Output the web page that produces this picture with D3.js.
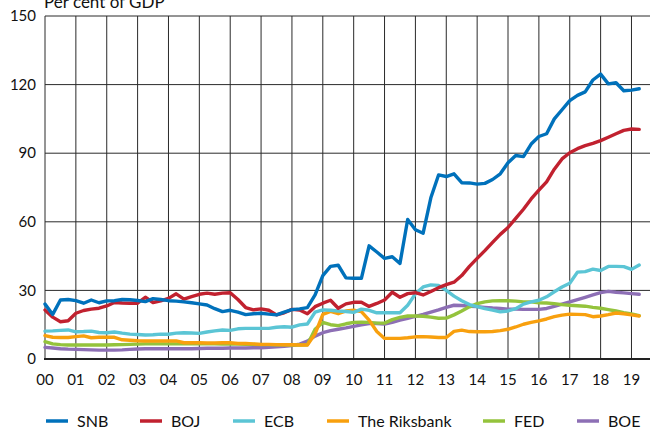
<!DOCTYPE html>
<html lang="en">
<head>
  <meta charset="UTF-8">
  <title>Central bank balance sheets</title>
  <script src="https://d3js.org/d3.v7.min.js"></script>
  <style>
    body {
      margin: 0;
      background: #fff;
      font-family: Lato, "Open Sans", Arial, sans-serif;
    }
    svg { display: block; }
    .grid line { stroke: #2a2a2a; stroke-width: 1px; }
    .tick-label { font-size: 15px; fill: #111; }
    .legend text { font-size: 16px; fill: #111; }
    .series { fill: none; stroke-width: 3.4px; stroke-linejoin: round; stroke-linecap: round; }
  </style>
</head>
<body>
  <svg width="650" height="430"></svg>

  <script>
    // Quarterly observations, 2000 Q1 .. 2019 Q2
    const quarters = d3.range(0, 78).map(i => 2000 + i / 4);

    const yearLabels = ["00","01","02","03","04","05","06","07","08","09",
                        "10","11","12","13","14","15","16","17","18","19"];
    const yTicks = [0, 30, 60, 90, 120, 150];

    const snb = [
      24, 19.5, 25.8, 26,   25.5, 24.4, 25.8, 24.6,  25.4, 25.5, 26, 25.9,
      25.6, 25.1, 26.4, 26, 25.5, 25.3, 25, 24.6,    24.1, 23.6, 22, 20.7,
      21.3, 20.5, 19.4, 19.8, 20, 19.6, 19.3, 20.5,  21.6, 21.9, 22.5, 28,
      36.5, 40.5, 41, 35.5, 35.3, 35.3, 49.5, 46.8,  44, 44.7, 41.8, 61,
      56.5, 55, 70.5, 80.5, 79.8, 81, 77.1, 77,      76.5, 76.8, 78.5, 81,
      85.8, 89, 88.5, 94,   97.3, 98.5, 105, 109,    113, 115.3, 116.8, 122,
      124.6, 120.3, 120.8, 117.3, 117.6, 118.2
    ];
    const boj = [
      21.4, 18.3, 16.3, 16.7, 20, 21.2, 21.8, 22.2,  23.2, 24.7, 24.5, 24.4,
      24.4, 27, 24.7, 25.4, 26.5, 28.5, 26.2, 27.3,  28.3, 28.8, 28.3, 28.8,
      29, 26, 22.5, 21.5,   21.9, 21.3, 19.3, 20.2,  21.7, 21.4, 19.8, 22.9,
      24.4, 25.7, 22.2, 24.1, 24.8, 24.8, 23, 24.3,  25.8, 29.2, 27, 28.6,
      29, 28, 29.5, 31.2,   32.5, 33.6, 36.5, 40.5,  44, 47.4, 51, 54.5,
      57.5, 61.5, 65.5, 70, 73.8, 77.5, 83, 87.5,    90.2, 92, 93.3, 94.3,
      95.5, 97, 98.5, 100,  100.6, 100.4
    ];
    const ecb = [
      12.2, 12.3, 12.5, 12.7, 11.9, 12, 12.2, 11.6,  11.5, 11.8, 11.3, 10.9,
      10.7, 10.5, 10.6, 10.9, 10.8, 11.3, 11.5, 11.4, 11.2, 11.8, 12.3, 12.7,
      12.5, 13.2, 13.4, 13.4, 13.4, 13.4, 13.9, 14.1, 13.9, 14.9, 15.3, 20.5,
      21.5, 21.3, 21, 20.8, 20.4, 21.8, 21.3, 20.2,  20.2, 20.2, 20.2, 23.5,
      28.5, 31.5, 32.4, 32.2, 30, 27.5, 25.5, 23.8,  22.9, 22, 21.4, 20.6,
      21, 22, 24, 25,       25.7, 27.2, 29.4, 31.5,  33.1, 38, 38.2, 39.3,
      38.7, 40.5, 40.5, 40.4, 39.2, 41.1
    ];
    const riksbank = [
      10.2, 9.5, 9.4, 9.4,  9.8, 10.1, 9.3, 9.5,     9.5, 9.5, 8.4, 8.2,
      8, 7.9, 7.9, 7.9,     7.9, 7.9, 7.1, 7.1,      7.1, 7, 7, 7.1,
      7.1, 6.8, 6.8, 6.6,   6.4, 6.4, 6.3, 6.2,      6.2, 6.1, 6.1, 11,
      19.5, 20.8, 19.8, 21, 21.3, 20.7, 17, 12,      9, 9, 9, 9.3,
      9.7, 9.8, 9.6, 9.4,   9.4, 12.1, 12.6, 12,     11.9, 11.9, 12, 12.4,
      13, 14, 15.2, 16,     16.7, 17.5, 18.5, 19.2,  19.6, 19.5, 19.4, 18.5,
      18.8, 19.4, 20.1, 19.8, 19.3, 18.8
    ];
    const fed = [
      7.6, 6.6, 6.3, 6.1,   6.1, 6.1, 6.1, 6.1,      6.1, 6.2, 6.3, 6.4,
      6.5, 6.6, 6.6, 6.6,   6.6, 6.6, 6.6, 6.6,      6.6, 6.6, 6.6, 6.5,
      6.5, 6.5, 6.4, 6.4,   6.3, 6.3, 6.2, 6.2,      6.1, 6.1, 6.2, 13,
      16, 15, 14.6, 15.4,   16, 16.1, 16, 15.7,      15.7, 17.2, 18.2, 18.8,
      18.8, 18.7, 18.3, 17.8, 17.9, 19.3, 21, 22.8,  24.2, 25, 25.4, 25.5,
      25.5, 25.3, 25, 25,   24.6, 24.5, 24.2, 23.8,  23.5, 23.3, 23.1, 22.6,
      22.2, 21.6, 21, 20.3, 19.7, 19
    ];
    const boe = [
      5.1, 4.8, 4.5, 4.3,   4.2, 4.1, 4, 3.9,        3.9, 3.9, 4, 4.2,
      4.4, 4.5, 4.5, 4.5,   4.5, 4.5, 4.5, 4.5,      4.6, 4.7, 4.7, 4.7,
      4.8, 4.8, 4.8, 4.9,   4.9, 5.1, 5.3, 5.6,      5.9, 6.5, 7.8, 10,
      11.5, 12.4, 13, 13.6, 14.3, 14.9, 15.5, 15.5,  15.3, 16, 17, 17.8,
      18.6, 19.5, 20.5, 21.5, 22.6, 23.5, 23.4, 23.1, 22.9, 22.6, 22.3, 22.1,
      21.8, 21.8, 21.7, 21.7, 21.7, 22.1, 23, 24,    25, 26, 27, 28,
      29, 29.6, 29.2, 28.9, 28.6, 28.3
    ];

    const seriesNames = ["SNB", "BOJ", "ECB", "The Riksbank", "FED", "BOE"];
    const seriesValues = [snb, boj, ecb, riksbank, fed, boe];
    const colors = ["#0071bb", "#c1212f", "#5bc5d5", "#f8a00e", "#94c33c", "#8d6fb5"];

    const svg = d3.select("svg");
    const margin = { left: 45, right: 0, top: 16, bottom: 71 };
    const width = +svg.attr("width");
    const height = +svg.attr("height");

    const x = d3.scaleLinear()
      .domain([2000, 2019.6])
      .range([margin.left, width - margin.right]);
    const y = d3.scaleLinear()
      .domain([0, 150])
      .range([height - margin.bottom, margin.top]);

    // Title (partly above the top edge, as in the original)
    svg.append("text")
      .attr("x", 44)
      .attr("y", 8)
      .attr("font-size", "17px")
      .attr("fill", "#111")
      .text("Per cent of GDP");

    // Grid
    const grid = svg.append("g").attr("class", "grid");
    grid.selectAll("line.v")
      .data(yearLabels)
      .join("line")
      .attr("class", "v")
      .attr("x1", (d, i) => x(2000 + i))
      .attr("x2", (d, i) => x(2000 + i))
      .attr("y1", y(150))
      .attr("y2", y(0));
    grid.selectAll("line.h")
      .data(yTicks)
      .join("line")
      .attr("class", "h")
      .attr("x1", x.range()[0])
      .attr("x2", x.range()[1])
      .attr("y1", d => y(d))
      .attr("y2", d => y(d));

    // Y tick labels
    svg.append("g")
      .selectAll("text")
      .data(yTicks)
      .join("text")
      .attr("class", "tick-label")
      .attr("x", 36)
      .attr("y", d => y(d))
      .attr("dy", "0.35em")
      .attr("text-anchor", "end")
      .text(d => d);

    // X tick labels
    svg.append("g")
      .selectAll("text")
      .data(yearLabels)
      .join("text")
      .attr("class", "tick-label")
      .attr("x", (d, i) => x(2000 + i))
      .attr("y", y(0) + 21)
      .attr("dy", "0.35em")
      .attr("text-anchor", "middle")
      .text(d => d);

    // Lines (drawn bottom-up so SNB sits on top)
    const line = d3.line()
      .x((d, i) => x(quarters[i]))
      .y(d => y(d));

    const order = [5, 4, 3, 2, 1, 0];
    svg.append("g")
      .selectAll("path")
      .data(order)
      .join("path")
      .attr("class", "series")
      .attr("stroke", k => colors[k])
      .attr("d", k => line(seriesValues[k]));

    // X axis line
    svg.append("line")
      .attr("x1", x.range()[0] - 1)
      .attr("x2", x.range()[1])
      .attr("y1", y(0))
      .attr("y2", y(0))
      .attr("stroke", "#222")
      .attr("stroke-width", 2);

    // Legend
    const legendX = [46, 140, 233, 327, 483, 577];
    const legendY = 421;
    const legend = svg.append("g").attr("class", "legend")
      .selectAll("g")
      .data(seriesNames)
      .join("g")
      .attr("transform", (d, i) => `translate(${legendX[i]},${legendY})`);
    legend.append("line")
      .attr("x1", 0).attr("x2", 22)
      .attr("stroke", (d, i) => colors[i])
      .attr("stroke-width", 3.5);
    legend.append("text")
      .attr("x", 31)
      .attr("dy", "0.35em")
      .text(d => d);
  </script>
</body>
</html>
